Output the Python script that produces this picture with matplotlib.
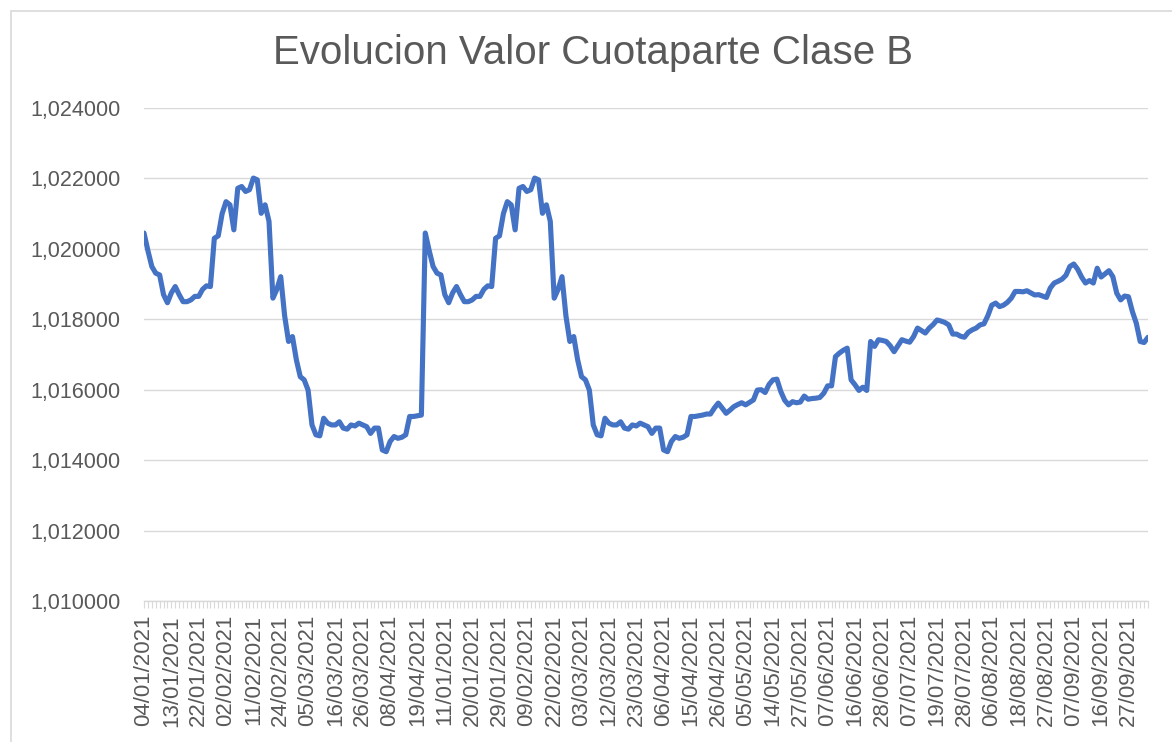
import matplotlib
matplotlib.use('Agg')
import matplotlib.pyplot as plt
from matplotlib.patches import Rectangle
from matplotlib.ticker import FixedLocator, FuncFormatter

# --- Datos ---
# Primer tramo (04/01 - 21/04) que en la planilla aparece copiado dos veces
cuota_ene_abr = [
    1.02045, 1.01995, 1.01950, 1.01931, 1.01926, 1.01870, 1.01847, 1.01875, 1.01893, 1.01870,
    1.01850, 1.01850, 1.01855, 1.01865, 1.01865, 1.01885, 1.01895, 1.01893, 1.02030, 1.02037,
    1.02100, 1.02134, 1.02125, 1.02054, 1.02172, 1.02177, 1.02163, 1.02168, 1.02201, 1.02196,
    1.02101, 1.02125, 1.02078, 1.01860, 1.01885, 1.01921, 1.01810, 1.01737, 1.01751, 1.01685,
    1.01637, 1.01628, 1.01599, 1.01500, 1.01472, 1.01469, 1.01519, 1.01505, 1.01500, 1.01500,
    1.01509, 1.01491, 1.01488, 1.01500, 1.01497, 1.01505, 1.01500, 1.01495, 1.01476, 1.01491,
    1.01491, 1.01429, 1.01424, 1.01453, 1.01467, 1.01462, 1.01465, 1.01472, 1.01524, 1.01524,
    1.01526, 1.01528,
]

# Resto de la serie (abril - septiembre)
cuota_abr_sep = [
    1.01531, 1.01531, 1.01548, 1.01562, 1.01548, 1.01533, 1.01542, 1.01552, 1.01558, 1.01563,
    1.01557, 1.01564, 1.01571, 1.01599, 1.01600, 1.01592, 1.01615, 1.01628, 1.01630, 1.01595,
    1.01570, 1.01557, 1.01566, 1.01563, 1.01565, 1.01582, 1.01573, 1.01575, 1.01576, 1.01578,
    1.01590, 1.01611, 1.01611, 1.01694, 1.01704, 1.01712, 1.01718, 1.01628, 1.01614, 1.01598,
    1.01607, 1.01598, 1.01737, 1.01723, 1.01742, 1.01740, 1.01737, 1.01725, 1.01708, 1.01725,
    1.01742, 1.01738, 1.01735, 1.01751, 1.01775, 1.01768, 1.01761, 1.01775, 1.01785, 1.01798,
    1.01795, 1.01791, 1.01784, 1.01758, 1.01758, 1.01752, 1.01749, 1.01763, 1.01770, 1.01775,
    1.01784, 1.01787, 1.01810, 1.01840, 1.01846, 1.01836, 1.01840, 1.01848, 1.01860, 1.01879,
    1.01879, 1.01878, 1.01881, 1.01875, 1.01869, 1.01870, 1.01866, 1.01862, 1.01889, 1.01903,
    1.01908, 1.01914, 1.01925, 1.01950, 1.01957, 1.01942, 1.01920, 1.01903, 1.01910, 1.01903,
    1.01945, 1.01920, 1.01929, 1.01938, 1.01921, 1.01874, 1.01855, 1.01866, 1.01864, 1.01822,
    1.01789, 1.01737, 1.01734, 1.01749,
]

fechas_ticks = [
    '04/01/2021', '13/01/2021', '22/01/2021', '02/02/2021', '11/02/2021', '24/02/2021',
    '05/03/2021', '16/03/2021', '26/03/2021', '08/04/2021', '19/04/2021', '11/01/2021',
    '20/01/2021', '29/01/2021', '09/02/2021', '22/02/2021', '03/03/2021', '12/03/2021',
    '23/03/2021', '06/04/2021', '15/04/2021', '26/04/2021', '05/05/2021', '14/05/2021',
    '27/05/2021', '07/06/2021', '16/06/2021', '28/06/2021', '07/07/2021', '19/07/2021',
    '28/07/2021', '06/08/2021', '18/08/2021', '27/08/2021', '07/09/2021', '16/09/2021',
    '27/09/2021',
]
PASO_TICKS = 7

valores = cuota_ene_abr + cuota_ene_abr + cuota_abr_sep
x = list(range(len(valores)))

# --- Estilo ---
GRIS_TEXTO = '#595959'
GRIS_GRILLA = '#d9d9d9'
AZUL = '#4472C4'
plt.rcParams['font.family'] = ['Liberation Sans', 'DejaVu Sans']

W, H = 1172, 742
fig = plt.figure(figsize=(W / 100, H / 100), dpi=100)

# borde del grafico (recortado a derecha y abajo)
fig.patches.append(Rectangle((10.5 / W, -0.05), 1.1, 1 - 10.5 / H + 0.05,
                             transform=fig.transFigure, fill=False,
                             edgecolor=GRIS_GRILLA, linewidth=1.2))

ax = fig.add_axes([144 / W, 1 - 601 / H, (1148 - 144) / W, (601 - 108) / H])

ax.plot(x, valores, color=AZUL, linewidth=3.7, solid_joinstyle='round',
        solid_capstyle='round', zorder=3)

ax.set_xlim(0, len(valores) - 1)
ax.set_ylim(1.010, 1.024)
ax.set_yticks([1.010 + 0.002 * i for i in range(8)])
ax.yaxis.set_major_formatter(FuncFormatter(lambda v, p: f'{v:.6f}'.replace('.', ',')))
ax.grid(axis='y', color=GRIS_GRILLA, linewidth=1.0, zorder=0)

pos_ticks = list(range(0, len(fechas_ticks) * PASO_TICKS, PASO_TICKS))
ax.xaxis.set_major_locator(FixedLocator(pos_ticks))
ax.xaxis.set_minor_locator(FixedLocator(x))
ax.set_xticklabels(fechas_ticks, rotation=90)

ax.tick_params(axis='y', length=0, pad=17, labelsize=15.5, labelcolor=GRIS_TEXTO)
ax.tick_params(axis='x', which='both', direction='out', length=5, width=0.8,
               color=GRIS_GRILLA, labelsize=16, labelcolor=GRIS_TEXTO, pad=5)

for s in ['top', 'right', 'left']:
    ax.spines[s].set_visible(False)
ax.spines['bottom'].set_color(GRIS_GRILLA)
ax.spines['bottom'].set_linewidth(1.0)

fig.text(593 / W, 1 - 53 / H, 'Evolucion Valor Cuotaparte Clase B',
         ha='center', va='center', fontsize=29, color=GRIS_TEXTO)

fig.savefig('out.png', dpi=100)
